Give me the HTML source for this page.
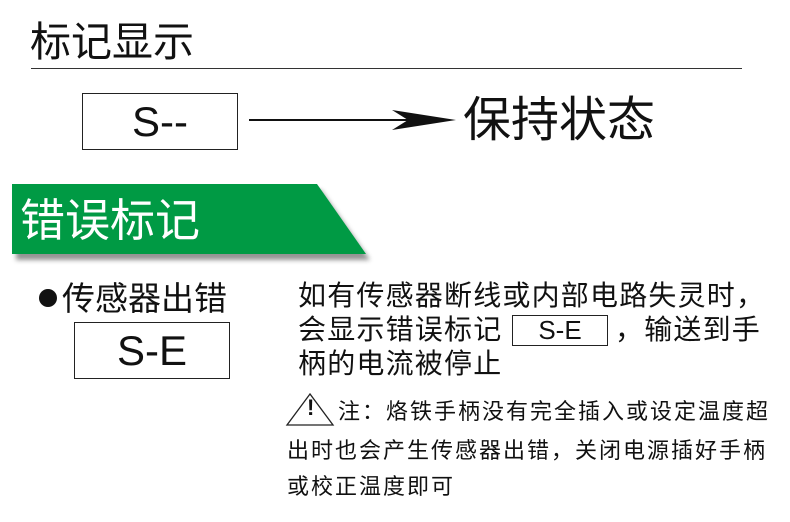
<!DOCTYPE html>
<html><head><meta charset="utf-8"><style>
body{margin:0;width:790px;height:522px;background:#fff;position:relative;overflow:hidden;font-family:"Liberation Sans","Noto Sans CJK SC",sans-serif;color:#111}
.a{position:absolute;white-space:nowrap;line-height:1}
.box{position:absolute;border:1px solid #222;box-sizing:border-box;display:flex;align-items:center;justify-content:center}
</style></head><body>
<div class="a" style="left:30px;top:22px;font-size:41px;">标记显示</div>
<div style="position:absolute;left:31px;top:68px;width:711px;height:1px;background:#333"></div>
<div class="box" style="left:82px;top:93px;width:156px;height:57px;font-size:42px;">S--</div>
<svg style="position:absolute;left:0;top:0" width="790" height="522">
<defs><filter id="b"><feGaussianBlur stdDeviation="2.5"/></filter></defs>
<line x1="249" y1="120" x2="440" y2="120" stroke="#111" stroke-width="2"/>
<path d="M392 110 L456 120 L392 130 L408 120 Z" fill="#111"/>
<polygon points="16,190 321,190 370,260 16,260" fill="#666" opacity="0.7" filter="url(#b)"/>
<polygon points="12,184 317,184 366,254 12,254" fill="#009a44"/>
<polygon points="310,394 287,425 333,425" fill="none" stroke="#222" stroke-width="1.3"/>
<circle cx="48" cy="298" r="9" fill="#111"/>
</svg>
<div class="a" style="left:463px;top:97px;font-size:48px;">保持状态</div>
<div class="a" style="left:20px;top:198px;font-size:45px;color:#fff;">错误标记</div>
<div class="a" style="left:62px;top:282px;font-size:33px;">传感器出错</div>
<div class="box" style="left:74px;top:322px;width:156px;height:57px;font-size:42px;">S-E</div>
<div class="a" style="left:298px;top:282px;font-size:28px;letter-spacing:1.2px;">如有传感器断线或内部电路失灵时，</div>
<div class="a" style="left:298px;top:316px;font-size:28px;letter-spacing:1.2px;">会显示错误标记</div>
<div class="box" style="left:512px;top:315px;width:96px;height:31px;font-size:26px;">S-E</div>
<div class="a" style="left:615px;top:316px;font-size:28px;letter-spacing:1.2px;">，输送到手</div>
<div class="a" style="left:298px;top:350px;font-size:28px;letter-spacing:1.2px;">柄的电流被停止</div>
<div class="a" style="left:307px;top:397px;font-size:22px;font-weight:bold;">!</div>
<div class="a" style="left:338px;top:401px;font-size:22px;letter-spacing:2px;">注：烙铁手柄没有完全插入或设定温度超</div>
<div class="a" style="left:287px;top:440px;font-size:22px;letter-spacing:2px;">出时也会产生传感器出错，关闭电源插好手柄</div>
<div class="a" style="left:287px;top:476px;font-size:22px;letter-spacing:2px;">或校正温度即可</div>
</body></html>
